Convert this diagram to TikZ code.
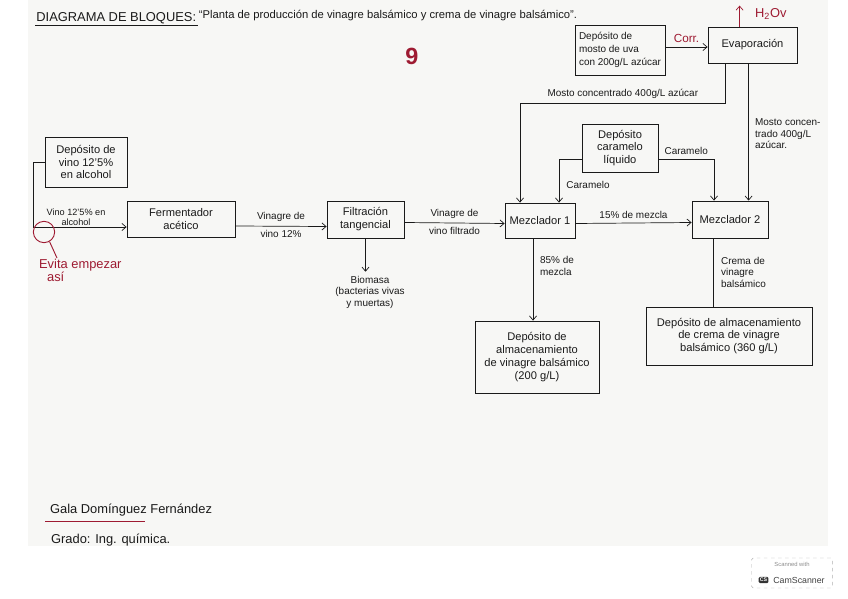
\documentclass[tikz,border=0pt]{standalone}
\usepackage{fontspec}
\setmainfont{Liberation Sans}
\usetikzlibrary{arrows.meta,positioning,calc}
\definecolor{PenInk}{HTML}{1A1A1A}
\definecolor{MarkRed}{HTML}{9E1B32}
\definecolor{PaperTone}{HTML}{F7F7F5}
\definecolor{BadgeGray}{HTML}{8C8C8C}
\tikzset{
  hand/.style={font=\fontsize{9.5}{11}\selectfont, text=PenInk},
  handsmall/.style={font=\fontsize{8.5}{9.8}\selectfont, text=PenInk},
  blockbox/.style={draw=PenInk, line width=0.7pt, align=center, inner sep=1pt, hand},
  flowline/.style={line width=0.6pt, draw=PenInk},
  flowarrow/.style={flowline, -{Straight Barb[length=3.5pt,width=6pt]}},
  redmark/.style={text=MarkRed, font=\fontsize{11}{12}\selectfont},
  redline/.style={draw=MarkRed, line width=0.8pt}
}

\begin{document}
\begin{tikzpicture}[x=0.03cm, y=-0.03cm,
  every node/.style={hand},
  badge/.style={draw=BadgeGray!70, dashed, rounded corners=1.5pt, minimum width=2.43cm, minimum height=0.9cm}
]
\useasboundingbox (0,0) rectangle (848,599);
\fill[PaperTone] (28,0) rectangle (828,546);

% title
\node[anchor=west, font=\fontsize{11}{12}\selectfont, inner sep=1pt] (title) at (35,18) {DIAGRAMA DE BLOQUES:};
\draw[flowline] (title.south west) -- (title.south east);
\node[anchor=west, inner sep=1pt, font=\fontsize{9.6}{11}\selectfont] (subtitle) at ([yshift=2]title.east) {“Planta de producción de vinagre balsámico y crema de vinagre balsámico”.};
\node[text=MarkRed, font=\fontsize{20}{20}\selectfont\bfseries] (grade) at (412,56) {9};

% blocks
\node[blockbox, minimum width=2.7cm, minimum height=1.5cm, align=left, font=\fontsize{8.5}{11}\selectfont] (depmosto) at (620,50) {Depósito de\\mosto de uva\\con 200g/L azúcar};
\node[blockbox, minimum width=2.67cm, minimum height=1.08cm] (evap) at (752.5,45) {Evaporación};
\node[blockbox, minimum width=2.28cm, minimum height=1.44cm] (carbox) at (620,148) {Depósito\\caramelo\\líquido};
\node[blockbox, minimum width=2.46cm, minimum height=1.5cm] (depvino) at (86,162) {Depósito de\\vino 12'5\%\\en alcohol};
\node[blockbox, minimum width=3.24cm, minimum height=1.08cm] (ferm) at (181,219) {Fermentador\\acético};
\node[blockbox, minimum width=2.31cm, minimum height=1.11cm] (filt) at (365.5,219.5) {Filtración\\tangencial};
\node[blockbox, minimum width=2.1cm, minimum height=1.05cm] (mezc1) at (540,220.5) {Mezclador 1};
\node[blockbox, minimum width=2.28cm, minimum height=1.11cm] (mezc2) at (730,219.5) {Mezclador 2};
\node[blockbox, minimum width=3.72cm, minimum height=2.16cm] (almac1) at (537,357) {Depósito de\\almacenamiento\\de vinagre balsámico\\(200 g/L)};
\node[blockbox, minimum width=4.98cm, minimum height=1.74cm] (almac2) at (729,336) {Depósito de almacenamiento\\de crema de vinagre\\balsámico (360 g/L)};
\node[align=center, handsmall] (bio) at (370,292) {Biomasa\\(bacterias vivas\\y muertas)};

% bend points
\coordinate (mostobend) at (520,103);
\coordinate (carleft) at (559,0);
\coordinate (carright) at (714,0);
\coordinate (vinobend) at (33,0);

% connectors
\draw[flowarrow] (depmosto.east |- 0,47) -- node[above, redmark, font=\fontsize{10}{11}\selectfont] (corr) {Corr.} (evap.west |- 0,47);
\draw[flowarrow, draw=MarkRed] ($(evap.north west)+(32,0)$) -- ++(0,-21) coordinate (vaporend);
\node[anchor=west, redmark, font=\fontsize{11}{12}\selectfont] (vapor) at (751,14) {H\textsubscript{2}Ov};
\draw[flowarrow] ($(evap.south west)+(18,0)$) |- node[pos=0.75, above, handsmall] (lmosto1) {Mosto concentrado 400g/L azúcar} (mostobend) -- (mostobend |- mezc1.north);
\draw[flowarrow] ($(evap.south west)+(41,0)$) coordinate (evapright) -- (evapright |- mezc2.north);
\node[anchor=west, align=left, handsmall] (lmosto2) at (751,134) {Mosto concen-\\trado 400g/L\\azúcar.};
\draw[flowarrow] ($(carbox.west)+(0,11)$) -| (carleft |- mezc1.north);
\node[handsmall] (lcar1) at (588,185) {Caramelo};
\draw[flowarrow] ($(carbox.east)+(0,11)$) -| node[pos=0.25, above, handsmall] (lcar2) {Caramelo} (carright |- mezc2.north);
\draw[flowarrow] (depvino.west) -- (vinobend |- depvino.west) |- ($(ferm.west)+(0,8)$);
\node[align=center, handsmall, font=\fontsize{7.8}{8.5}\selectfont] (lvino) at (76,217) {Vino 12'5\% en\\alcohol};
\draw[flowarrow] ($(ferm.east)+(0,7)$) -- node[above, handsmall] (lvin1) {Vinagre de} node[below, handsmall] (lvin2) {vino 12\%} ($(filt.west)+(0,7)$);
\draw[flowarrow] (filt.south) -- (filt.south |- bio.north);
\draw[flowarrow] ($(filt.east)+(0,3)$) -- node[above, handsmall] (lfilt1) {Vinagre de} node[below, handsmall] (lfilt2) {vino filtrado} ($(mezc1.west)+(0,3)$);
\draw[flowarrow] ($(mezc1.east)+(0,3)$) -- node[above, handsmall] (lmez) {15\% de mezcla} ($(mezc2.west)+(0,3)$);
\draw[flowarrow] ($(mezc1.south)+(-7,0)$) coordinate (mezcout1) -- (mezcout1 |- almac1.north);
\node[anchor=west, align=left, handsmall] (l85) at (536,266) {85\% de\\mezcla};
\draw[flowline] ($(mezc2.south)+(-17,0)$) coordinate (mezcout2) -- (mezcout2 |- almac2.north);
\node[anchor=west, align=left, handsmall] (lcrema) at (717,272) {Crema de\\vinagre\\balsámico};

% red remark
\node[circle, redline, minimum size=0.64cm, inner sep=0pt] (ring) at (44,232) {};
\node[redmark, anchor=north west] (evita) at (35,255) {Evita empezar};
\node[redmark, anchor=north west] (asi) at (43,268) {así};
\draw[redline] (ring.-60) -- ($(evita.north west)+(22,3)$) coordinate (evitatip);

% author
\node[anchor=west, font=\fontsize{11}{12}\selectfont] (author) at (46,510) {Gala Domínguez Fernández};
\draw[redline] ($(author.south west)+(-1,1)$) -- ++(100,0) coordinate (underend);
\node[anchor=west, font=\fontsize{11}{12}\selectfont] (grado) at (47,540) {Grado: Ing. química.};

% scanner badge
\node[badge] (scan) at (792,573) {};
\node[font=\fontsize{5}{6}\selectfont, text=BadgeGray] (scantop) at (792,564) {Scanned with};
\node[font=\fontsize{7.5}{8}\selectfont, text=black!75] (scanname) at (799,580) {CamScanner};
\node[fill=black!80, text=white, rounded corners=1pt, inner sep=1pt, font=\fontsize{4.5}{5}\selectfont\bfseries, left=0.5pt of scanname] (scanlogo) {CS};
\end{tikzpicture}
\end{document}
